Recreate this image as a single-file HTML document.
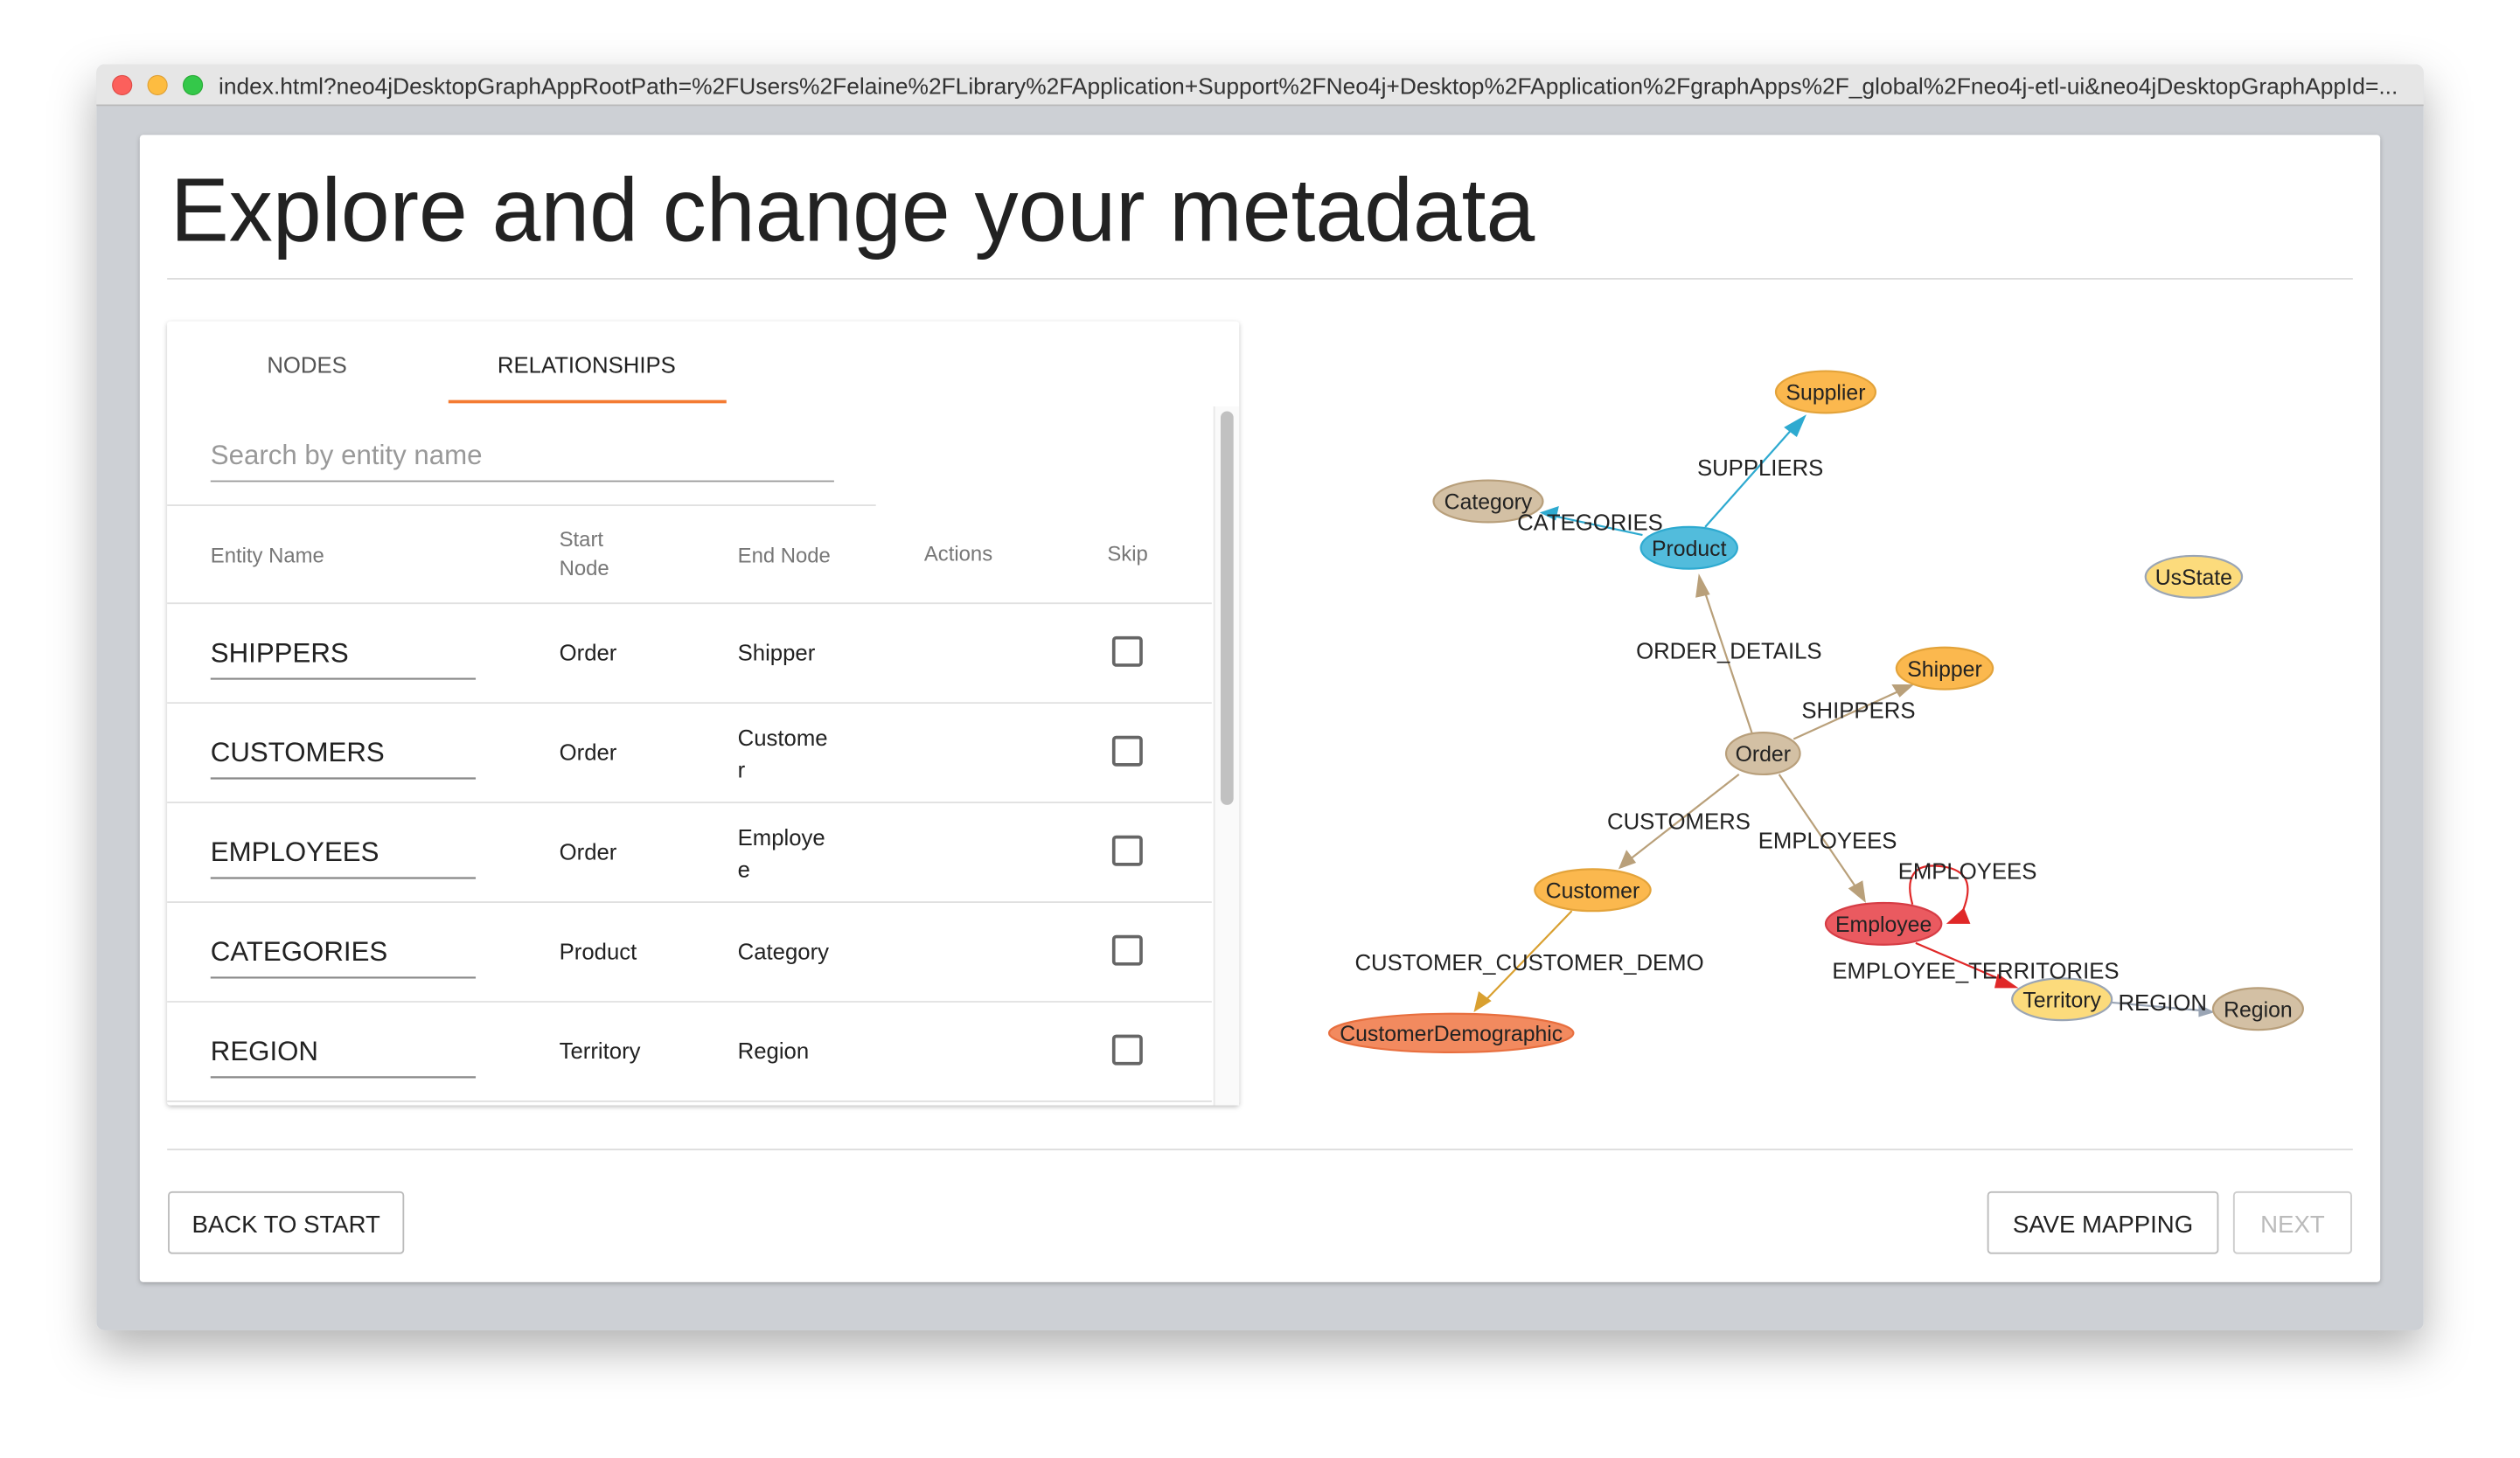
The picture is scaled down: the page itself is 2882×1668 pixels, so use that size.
<!DOCTYPE html>
<html><head><meta charset="utf-8"><style>
html,body{margin:0;padding:0;background:#fff;}
svg{display:block}
text{font-family:"Liberation Sans",sans-serif;}
</style></head><body>
<svg width="2882" height="1668" viewBox="0 0 1568 907.5" xmlns="http://www.w3.org/2000/svg">
<defs>
<filter id="sh" x="-10%" y="-10%" width="120%" height="130%"><feDropShadow dx="0" dy="12" stdDeviation="14" flood-color="#000" flood-opacity="0.3"/></filter>
<filter id="sh2" x="-5%" y="-5%" width="110%" height="110%"><feDropShadow dx="0" dy="1" stdDeviation="1.5" flood-color="#000" flood-opacity="0.25"/></filter>
</defs>
<rect width="1568" height="907.5" fill="#fff"/>
<!-- window -->
<g filter="url(#sh)"><rect x="60" y="40" width="1448" height="788" rx="5" fill="#cdd0d5"/></g>
<path d="M60 45 a5 5 0 0 1 5 -5 h1438 a5 5 0 0 1 5 5 v20 h-1448z" fill="#e6e6e6"/>
<line x1="60" y1="65.5" x2="1508" y2="65.5" stroke="#b9b9b9" stroke-width="1"/>
<circle cx="76" cy="53" r="6" fill="#fc605c" stroke="#de4a45" stroke-width="0.6"/>
<circle cx="98" cy="53" r="6" fill="#fdbc40" stroke="#de9f34" stroke-width="0.6"/>
<circle cx="120" cy="53" r="6" fill="#34c84a" stroke="#27aa35" stroke-width="0.6"/>
<text x="136" y="58.5" font-size="14" fill="#333" textLength="1356" lengthAdjust="spacingAndGlyphs">index.html?neo4jDesktopGraphAppRootPath=%2FUsers%2Felaine%2FLibrary%2FApplication+Support%2FNeo4j+Desktop%2FApplication%2FgraphApps%2F_global%2Fneo4j-etl-ui&amp;neo4jDesktopGraphAppId=...</text>
<!-- card -->
<g filter="url(#sh2)"><rect x="87" y="84" width="1394" height="714" rx="2" fill="#fff"/></g>
<text x="106" y="150" font-size="56" fill="#222" textLength="849" lengthAdjust="spacingAndGlyphs">Explore and change your metadata</text>
<line x1="104" y1="173.5" x2="1464" y2="173.5" stroke="#ddd" stroke-width="1"/>
<!-- left panel -->
<g filter="url(#sh2)"><rect x="104" y="200" width="667" height="488" rx="2" fill="#fff"/></g>
<text x="191" y="232" font-size="14" fill="#555" text-anchor="middle">NODES</text>
<text x="365" y="232" font-size="14" fill="#222" text-anchor="middle">RELATIONSHIPS</text>
<rect x="279" y="249" width="173" height="2" fill="#f47b32"/>
<text x="131" y="289" font-size="17" fill="#999">Search by entity name</text>
<line x1="131" y1="299.5" x2="519" y2="299.5" stroke="#999" stroke-width="1"/>
<line x1="104" y1="314.5" x2="545" y2="314.5" stroke="#e0e0e0" stroke-width="1"/>
<g font-size="13" fill="#777">
<text x="131" y="350">Entity Name</text>
<text x="348" y="340">Start</text><text x="348" y="358">Node</text>
<text x="459" y="350">End Node</text>
<text x="575" y="349">Actions</text>
<text x="689" y="349">Skip</text>
</g>
<line x1="104" y1="375.5" x2="754" y2="375.5" stroke="#e0e0e0"/>
<g fill="#222">
<g font-size="17"><text x="131" y="412">SHIPPERS</text><text x="131" y="474">CUSTOMERS</text><text x="131" y="536">EMPLOYEES</text><text x="131" y="598">CATEGORIES</text><text x="131" y="660">REGION</text></g>
<g font-size="14"><text x="348" y="411">Order</text><text x="348" y="473">Order</text><text x="348" y="535">Order</text><text x="348" y="597">Product</text><text x="348" y="659">Territory</text>
<text x="459" y="411">Shipper</text><text x="459" y="464">Custome</text><text x="459" y="484">r</text><text x="459" y="526">Employe</text><text x="459" y="546">e</text><text x="459" y="597">Category</text><text x="459" y="659">Region</text></g>
</g>
<g stroke="#888" stroke-width="1.2">
<line x1="131" y1="422.5" x2="296" y2="422.5"/><line x1="131" y1="484.5" x2="296" y2="484.5"/><line x1="131" y1="546.5" x2="296" y2="546.5"/><line x1="131" y1="608.5" x2="296" y2="608.5"/><line x1="131" y1="670.5" x2="296" y2="670.5"/>
</g>
<g stroke="#e0e0e0"><line x1="104" y1="437.5" x2="754" y2="437.5"/><line x1="104" y1="499.5" x2="754" y2="499.5"/><line x1="104" y1="561.5" x2="754" y2="561.5"/><line x1="104" y1="623.5" x2="754" y2="623.5"/><line x1="104" y1="685.5" x2="754" y2="685.5"/></g>
<g fill="none" stroke="#666" stroke-width="2"><rect x="693" y="397" width="17" height="17" rx="1.5"/><rect x="693" y="459" width="17" height="17" rx="1.5"/><rect x="693" y="521" width="17" height="17" rx="1.5"/><rect x="693" y="583" width="17" height="17" rx="1.5"/><rect x="693" y="645" width="17" height="17" rx="1.5"/></g>
<rect x="755" y="253" width="16" height="435" fill="#fafafa"/>
<line x1="755.5" y1="253" x2="755.5" y2="688" stroke="#e8e8e8"/>
<rect x="759.5" y="256" width="8" height="245" rx="4" fill="#c1c1c1"/>
<!-- bottom -->
<line x1="104" y1="715.5" x2="1464" y2="715.5" stroke="#ddd"/>
<rect x="105" y="742" width="146" height="38" rx="2" fill="#fff" stroke="#bbb"/>
<text x="178" y="767" font-size="15" fill="#222" text-anchor="middle">BACK TO START</text>
<rect x="1237" y="742" width="143" height="38" rx="2" fill="#fff" stroke="#bbb"/>
<text x="1308.5" y="767" font-size="15" fill="#222" text-anchor="middle">SAVE MAPPING</text>
<rect x="1390" y="742" width="73" height="38" rx="2" fill="#fff" stroke="#ccc"/>
<text x="1426.5" y="767" font-size="15" fill="#bbb" text-anchor="middle">NEXT</text>
<!-- graph edges -->
<g fill="none" stroke-width="1.2">
<line x1="1061" y1="328" x2="1116" y2="266" stroke="#2eaad0"/>
<line x1="1022" y1="333" x2="966" y2="321" stroke="#2eaad0"/>
<line x1="1090" y1="456" x2="1060" y2="366" stroke="#b9a07a"/>
<line x1="1116" y1="460" x2="1182" y2="430" stroke="#b9a07a"/>
<line x1="1082" y1="482" x2="1014" y2="535" stroke="#b9a07a"/>
<line x1="1107" y1="482" x2="1156" y2="554" stroke="#b9a07a"/>
<line x1="978" y1="567" x2="924" y2="623" stroke="#d9a030"/>
<line x1="1192" y1="587" x2="1248" y2="611" stroke="#e02828"/>
<line x1="1314" y1="624" x2="1370" y2="629" stroke="#9aa5b5"/>
<path d="M1190 563 C1185 545 1192 538 1205 539 C1222 540 1230 548 1220 570" stroke="#e02828"/>
</g>
<g stroke="none">
<polygon points="1124,258 1110,266 1118,272" fill="#2eaad0"/>
<polygon points="958,319 970,315 968,324" fill="#2eaad0"/>
<polygon points="1057,357 1055,372 1064,370" fill="#b9a07a"/>
<polygon points="1191,426 1177,426 1182,434" fill="#b9a07a"/>
<polygon points="1007,541 1012,529 1018,537" fill="#b9a07a"/>
<polygon points="1161,562 1150,553 1159,548" fill="#b9a07a"/>
<polygon points="917,630 920,617 928,623" fill="#d9a030"/>
<polygon points="1256,615 1243,606 1241,615" fill="#e02828"/>
<polygon points="1211,575 1222,565 1226,575" fill="#e02828"/>
<polygon points="1378,630 1368,625 1368,633" fill="#9aa5b5"/>
</g>
<!-- nodes -->
<g stroke-width="1.2">
<ellipse cx="1136" cy="244" rx="31" ry="13" fill="#fbb84e" stroke="#e3a33a"/>
<ellipse cx="926" cy="312" rx="34" ry="13" fill="#d3c0a4" stroke="#b89f7b"/>
<ellipse cx="1051" cy="341" rx="30" ry="13" fill="#52bcdc" stroke="#2eaad0"/>
<ellipse cx="1365" cy="359" rx="30" ry="13" fill="#fcdb7c" stroke="#9aa5b5"/>
<ellipse cx="1210" cy="416" rx="30" ry="13" fill="#fbb84e" stroke="#e3a33a"/>
<ellipse cx="1097" cy="469" rx="23" ry="13" fill="#d3c0a4" stroke="#b89f7b"/>
<ellipse cx="991" cy="554" rx="36" ry="13" fill="#fbb84e" stroke="#e3a33a"/>
<ellipse cx="1172" cy="575" rx="36" ry="13" fill="#ea5a60" stroke="#d63d45"/>
<ellipse cx="1283" cy="622" rx="31" ry="13" fill="#fcdb7c" stroke="#9aa5b5"/>
<ellipse cx="1405" cy="628" rx="28" ry="13" fill="#d3c0a4" stroke="#b89f7b"/>
<ellipse cx="903" cy="643" rx="76" ry="12" fill="#f28a5f" stroke="#e86f3f"/>
</g>
<g font-size="13.5" fill="#222" text-anchor="middle">
<text x="1136" y="249">Supplier</text><text x="926" y="317">Category</text><text x="1051" y="346">Product</text><text x="1365" y="364">UsState</text><text x="1210" y="421">Shipper</text><text x="1097" y="474">Order</text><text x="991" y="559">Customer</text><text x="1172" y="580">Employee</text><text x="1283" y="627">Territory</text><text x="1405" y="633">Region</text><text x="903" y="648">CustomerDemographic</text>
</g>
<g font-size="14" fill="#222">
<text x="1056" y="296">SUPPLIERS</text><text x="944" y="330">CATEGORIES</text><text x="1018" y="410">ORDER_DETAILS</text><text x="1121" y="447">SHIPPERS</text><text x="1000" y="516">CUSTOMERS</text><text x="1094" y="528">EMPLOYEES</text><text x="1181" y="547">EMPLOYEES</text><text x="843" y="604">CUSTOMER_CUSTOMER_DEMO</text><text x="1140" y="609">EMPLOYEE_TERRITORIES</text><text x="1318" y="629">REGION</text>
</g>
</svg>
</body></html>
